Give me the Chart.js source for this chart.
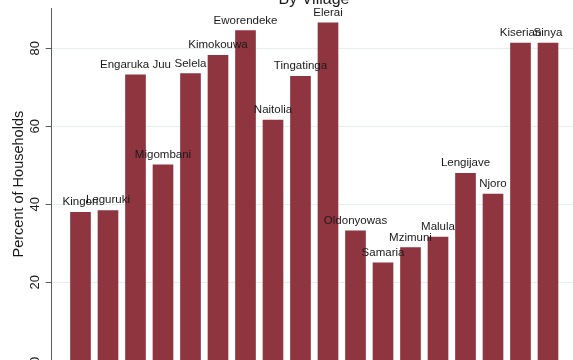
<!DOCTYPE html>
<html>
<head>
<meta charset="utf-8">
<script src="https://cdn.jsdelivr.net/npm/chart.js@4/dist/chart.umd.min.js"></script>
<style>
  html, body { margin: 0; padding: 0; background: #fff; overflow: hidden; }
  #wrap { position: relative; width: 573px; height: 400px; }
</style>
</head>
<body>
<div id="wrap"><canvas id="grafico"></canvas></div>
<script>
var villages = ['Kingori', 'Leguruki', 'Engaruka Juu', 'Migombani', 'Selela', 'Kimokouwa',
  'Eworendeke', 'Naitolia', 'Tingatinga', 'Elerai', 'Oldonyowas', 'Samaria',
  'Mzimuni', 'Malula', 'Lengijave', 'Njoro', 'Kiserian', 'Sinya'];
var percentHouseholds = [37.9, 38.4, 73.2, 50.1, 73.5, 78.2, 84.5, 61.6, 72.8, 86.5,
  33.2, 25.0, 28.9, 31.6, 47.9, 42.6, 81.3, 81.3];
var yTicks = [0, 20, 40, 60, 80];

var fonte = '"Liberation Sans", Arial, Helvetica, sans-serif';

// bar positions on a numeric x axis so the first bar sits away from the y axis
var pontos = percentHouseholds.map(function (v, i) { return { x: i, y: v } });

// names above each bar + the chart heading
var rotulos = {
  id: 'rotulos',
  afterDatasetsDraw: function (chart) {
    var ctx = chart.ctx;
    var meta = chart.getDatasetMeta(0);
    ctx.save();
    ctx.font = '11.5px ' + fonte;
    ctx.fillStyle = '#1a1a1a';
    ctx.textAlign = 'center';
    ctx.textBaseline = 'alphabetic';
    meta.data.forEach(function (bar, i) {
      ctx.fillText(villages[i], bar.x, bar.y - 7);
    });
    ctx.font = '16px ' + fonte;
    ctx.fillText('By Village', 314, 3.5);
    ctx.restore();
  }
};

new Chart(document.getElementById('grafico'), {
  type: 'bar',
  data: {
    labels: villages,
    datasets: [{
      label: 'Percent of Households',
      data: pontos,
      backgroundColor: '#8f3540',
      borderWidth: 0,
      barThickness: 20
    }]
  },
  options: {
    responsive: true,
    maintainAspectRatio: false,
    animation: false,
    events: [],
    layout: { padding: { top: 8, right: 0, bottom: 39.7, left: 0 } },
    plugins: {
      legend: { display: false },
      tooltip: { enabled: false },
      title: { display: false }
    },
    scales: {
      x: {
        type: 'linear',
        display: false,
        offset: false,
        min: -1.047,
        max: 17.909
      },
      y: {
        min: 0,
        max: 90.3,
        afterBuildTicks: function (scale) {
          scale.ticks = yTicks.map(function (v) { return { value: v } });
        },
        afterFit: function (scale) {
          scale.width = 51.7;
          scale.paddingTop = 0;
          scale.paddingBottom = 0;
        },
        border: { display: true, color: '#5a5a5a', width: 1 },
        grid: {
          color: '#e6eef0',
          lineWidth: 1,
          drawTicks: true,
          tickLength: 6,
          tickColor: '#5a5a5a'
        },
        ticks: {
          minRotation: 90,
          maxRotation: 90,
          crossAlign: 'center',
          padding: 3,
          color: '#1a1a1a',
          font: { family: fonte, size: 13 }
        },
        title: {
          display: true,
          text: 'Percent of Households',
          color: '#1a1a1a',
          padding: { top: 10, bottom: 2 },
          font: { family: fonte, size: 14.5 }
        }
      }
    }
  },
  plugins: [rotulos]
});
</script>
</body>
</html>
